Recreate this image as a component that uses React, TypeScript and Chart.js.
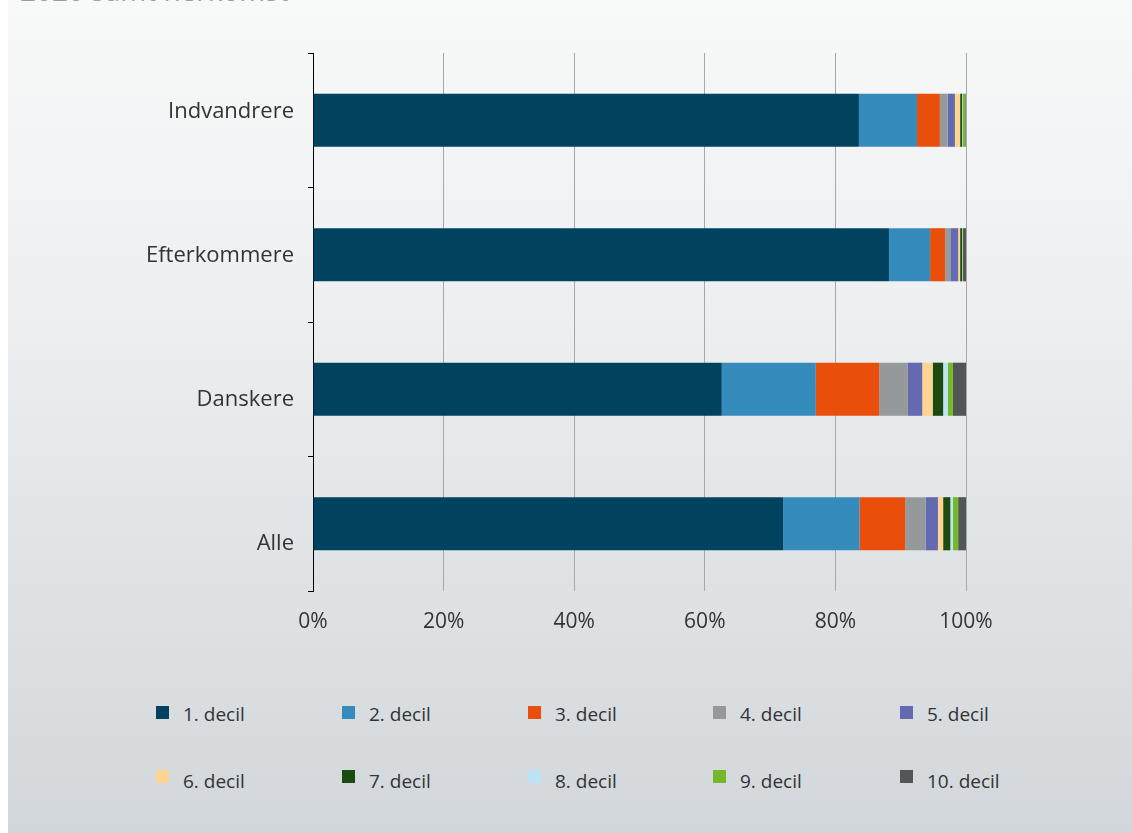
import React, { useEffect, useRef } from "react";
import { Chart, registerables } from "chart.js";

Chart.register(...registerables);

const categories = ["Indvandrere", "Efterkommere", "Danskere", "Alle"];
const seriesNames = [
  "1. decil", "2. decil", "3. decil", "4. decil", "5. decil",
  "6. decil", "7. decil", "8. decil", "9. decil", "10. decil",
];
const colors = [
  "#01435e", "#368bbd", "#e94e0b", "#96999c", "#646aaf",
  "#fdd491", "#1c4b11", "#bde3f6", "#76b82a", "#535657",
];
// values per decile: [Indvandrere, Efterkommere, Danskere, Alle] (percent)
const decil1 = [83.6, 88.2, 62.6, 72.0];
const decil2 = [8.9, 6.3, 14.4, 11.7];
const decil3 = [3.5, 2.3, 9.7, 7.0];
const decil4 = [1.2, 0.8, 4.4, 3.1];
const decil5 = [1.1, 1.2, 2.2, 1.9];
const decil6 = [0.8, 0.3, 1.6, 0.8];
const decil7 = [0.3, 0.3, 1.6, 1.1];
const decil8 = [0.1, 0.05, 0.7, 0.4];
const decil9 = [0.4, 0.1, 0.8, 0.8];
const decil10 = [0.1, 0.45, 2.0, 1.2];
const seriesValues = [decil1, decil2, decil3, decil4, decil5, decil6, decil7, decil8, decil9, decil10];
const xTicks = [0, 20, 40, 60, 80, 100];
const titleText = "2020 samt herkomst";

// label axis range: category labels sit slightly spread relative to bars in the reference
const LABEL_MIN = -0.3958;
const LABEL_MAX = 3.3403;

const FONT = "'Open Sans', 'DejaVu Sans', sans-serif";

export default function App() {
  const ref = useRef<HTMLCanvasElement>(null);

  useEffect(() => {
    if (!ref.current) return;
    const chart = new Chart(ref.current, {
      type: "bar",
      data: {
        labels: categories,
        datasets: seriesNames.map((name, i) => ({
          label: name,
          data: seriesValues[i],
          backgroundColor: colors[i],
          borderWidth: 0,
          categoryPercentage: 1,
          barPercentage: 0.395,
        })),
      },
      options: {
        indexAxis: "y",
        responsive: false,
        animation: false,
        layout: { padding: { top: 53, right: 166, left: 0, bottom: 0 } },
        plugins: {
          legend: { display: false },
          tooltip: { enabled: false },
          title: { display: false },
        },
        scales: {
          x: {
            stacked: true,
            min: 0,
            max: 100,
            afterBuildTicks: (scale: any) => {
              scale.ticks = xTicks.map((v) => ({ value: v }));
            },
            afterFit: (scale: any) => {
              scale.height = 50;
            },
            ticks: {
              callback: (v: any) => v + "%",
              color: "#333333",
              font: { family: FONT, size: 21 },
              padding: 18,
              maxRotation: 0,
            },
            grid: { color: "#a8a8a8", lineWidth: 1, drawTicks: false },
            border: { display: false },
          },
          y: {
            stacked: true,
            weight: 0,
            afterFit: (scale: any) => {
              scale.width = 0;
            },
            ticks: { display: false },
            grid: {
              drawOnChartArea: false,
              drawTicks: true,
              tickLength: 5,
              color: "#000000",
              lineWidth: 1,
            },
            border: { display: true, color: "#000000", width: 1 },
          },
          labelAxis: {
            axis: "y",
            type: "linear",
            position: "left",
            weight: 1,
            reverse: true,
            offset: false,
            bounds: "data",
            min: LABEL_MIN,
            max: LABEL_MAX,
            afterBuildTicks: (scale: any) => {
              scale.ticks = categories.map((_, i) => ({ value: i }));
              scale.min = LABEL_MIN;
              scale.max = LABEL_MAX;
            },
            afterFit: (scale: any) => {
              scale.width = 305;
            },
            ticks: {
              callback: (v: any) => categories[Math.round(v)] ?? "",
              color: "#333333",
              font: { family: FONT, size: 22 },
              padding: 19,
              labelOffset: 2,
            },
            grid: { display: false, drawTicks: false, offset: false },
            border: { display: false },
          },
        },
      },
    });
    return () => chart.destroy();
  }, []);

  const legendCols = [148, 334, 520, 705, 892];
  const legendRows = [706, 770];
  const legendTextOffset = [-1, 2];

  return (
    <div
      style={{
        position: "fixed",
        left: 8,
        top: 0,
        width: 1124,
        height: 833,
        background: "linear-gradient(to bottom, #f8f9f9 0%, #eceef0 40%, #d2d7db 100%)",
        overflow: "hidden",
        fontFamily: FONT,
      }}
    >
      <div
        style={{
          position: "absolute",
          left: 12,
          top: -25,
          fontSize: 28,
          lineHeight: "30px",
          color: "#9c9c9c",
          whiteSpace: "nowrap",
        }}
      >
        {titleText}
      </div>
      <canvas
        ref={ref}
        width={1124}
        height={641}
        style={{ position: "absolute", left: 0, top: 0, width: 1124, height: 641 }}
      />
      {seriesNames.map((name, i) => {
        const col = i % 5;
        const row = Math.floor(i / 5);
        const left = legendCols[col];
        const top = legendRows[row];
        return (
          <React.Fragment key={name}>
            <div
              style={{
                position: "absolute",
                left,
                top,
                width: 13,
                height: 13,
                background: colors[i],
              }}
            />
            <div
              style={{
                position: "absolute",
                left: left + 27,
                top: top + legendTextOffset[row],
                fontSize: 19,
                lineHeight: "19px",
                color: "#333333",
                whiteSpace: "nowrap",
              }}
            >
              {name}
            </div>
          </React.Fragment>
        );
      })}
    </div>
  );
}
